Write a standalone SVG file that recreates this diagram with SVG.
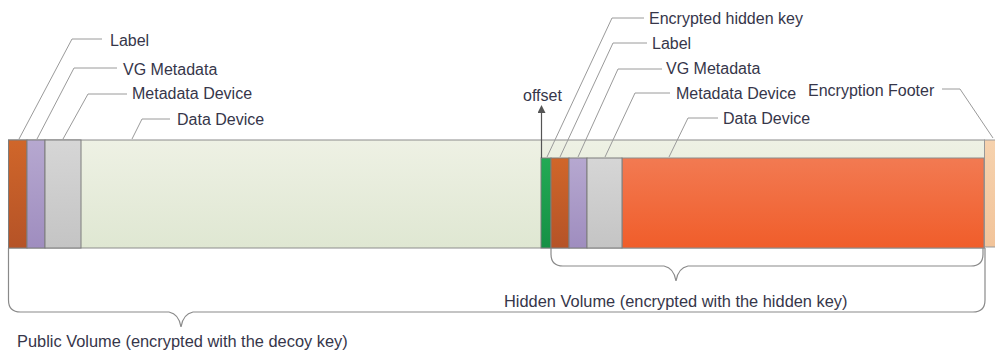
<svg xmlns="http://www.w3.org/2000/svg" width="995" height="350" viewBox="0 0 995 350">
<defs>
<linearGradient id="gOrange" x1="0" y1="0" x2="0" y2="1"><stop offset="0" stop-color="#D0662A"/><stop offset="1" stop-color="#B55327"/></linearGradient>
<linearGradient id="gPurple" x1="0" y1="0" x2="0" y2="1"><stop offset="0" stop-color="#B6A8D0"/><stop offset="1" stop-color="#9F8DBF"/></linearGradient>
<linearGradient id="gGray" x1="0" y1="0" x2="0" y2="1"><stop offset="0" stop-color="#D6D6D6"/><stop offset="1" stop-color="#C4C4C4"/></linearGradient>
<linearGradient id="gLight" x1="0" y1="0" x2="0" y2="1"><stop offset="0" stop-color="#EEF1E4"/><stop offset="1" stop-color="#DFE7D2"/></linearGradient>
<linearGradient id="gRed" x1="0" y1="0" x2="0" y2="1"><stop offset="0" stop-color="#F27A52"/><stop offset="1" stop-color="#F05D2A"/></linearGradient>
<linearGradient id="gGreen" x1="0" y1="0" x2="0" y2="1"><stop offset="0" stop-color="#22AA55"/><stop offset="1" stop-color="#169045"/></linearGradient>
<linearGradient id="gPeach" x1="0" y1="0" x2="0" y2="1"><stop offset="0" stop-color="#F6D2AE"/><stop offset="1" stop-color="#F2C49A"/></linearGradient>
<marker id="arr" markerWidth="8" markerHeight="8" refX="4" refY="4" orient="auto" markerUnits="userSpaceOnUse"><path d="M0,0 L8,4 L0,8 z" fill="#555"/></marker>
<style>
.t{font-family:"Liberation Sans",Arial,sans-serif;font-size:16px;fill:#36364a}
.tb{font-size:16.4px}
.lead{fill:none;stroke:#9a9a9a;stroke-width:1}
.blk{stroke:#7d7d7d;stroke-width:1}
.brace{fill:none;stroke:#8a8a8a;stroke-width:1.2}
</style>
</defs>

<g id="bar">
<rect x="8.5" y="140" width="976" height="108" fill="url(#gLight)" stroke="#8c8c8c"/>
</g>
<g id="footer"><rect x="984.5" y="140" width="12" height="107" fill="url(#gPeach)" stroke="#999"/></g>

<g id="pub-label"><rect x="8.5" y="140" width="18.5" height="108" fill="url(#gOrange)" class="blk"/></g>
<g id="pub-vg"><rect x="27" y="140" width="18" height="108" fill="url(#gPurple)" class="blk"/></g>
<g id="pub-meta"><rect x="45" y="140" width="36" height="108" fill="url(#gGray)" class="blk"/></g>

<g id="hid-data"><rect x="622" y="158" width="362" height="90" fill="url(#gRed)" stroke="#8c8c8c"/></g>
<g id="hid-key"><rect x="541" y="158" width="10" height="90" fill="url(#gGreen)" class="blk"/></g>
<g id="hid-label"><rect x="551" y="158" width="18" height="90" fill="url(#gOrange)" class="blk"/></g>
<g id="hid-vg"><rect x="569" y="158" width="18" height="90" fill="url(#gPurple)" class="blk"/></g>
<g id="hid-meta"><rect x="587" y="158" width="35" height="90" fill="url(#gGray)" class="blk"/></g>

<g id="connectors">
<polyline class="lead" points="19,139 72,39 102,39"/>
<polyline class="lead" points="37,139 74,68 117,68"/>
<polyline class="lead" points="63,139 88,94 127,94"/>
<polyline class="lead" points="132,139 142,119 170,119"/>
<polyline class="lead" points="547,157 612,18 644,18"/>
<polyline class="lead" points="560,157 613,43 647,43"/>
<polyline class="lead" points="578,157 618,69 662,69"/>
<polyline class="lead" points="605,157 635,93 670,93"/>
<polyline class="lead" points="669,157 688,118 718,118"/>
<polyline class="lead" points="993,138 960,89 942,89"/>
<line x1="541.5" y1="158" x2="541.5" y2="109" stroke="#555" stroke-width="1.2" marker-end="url(#arr)"/>
<path class="brace" d="M8.5,248 V300 Q8.5,312 20.5,312 H169 Q179,314 181,327 Q183,314 193,312 H973 Q985,312 985,300 V248"/>
<path class="brace" d="M551,248 V254 Q551,266 563,266 H664 Q674,268 676,281 Q678,268 688,266 H971 Q983,266 983,254 V248"/>
</g>

<g id="labels">
<text class="t" x="110" y="46">Label</text>
<text class="t" x="123" y="75">VG Metadata</text>
<text class="t" x="132" y="99">Metadata Device</text>
<text class="t" x="177" y="125">Data Device</text>
<text class="t" x="649" y="24">Encrypted hidden key</text>
<text class="t" x="652" y="49">Label</text>
<text class="t" x="666" y="74">VG Metadata</text>
<text class="t" x="676" y="99">Metadata Device</text>
<text class="t" x="723" y="124">Data Device</text>
<text class="t" x="808" y="96">Encryption Footer</text>
<text class="t" x="523" y="101">offset</text>
<text class="t tb" x="504" y="307">Hidden Volume (encrypted with the hidden key)</text>
<text class="t tb" x="17" y="347">Public Volume (encrypted with the decoy key)</text>
</g>
</svg>
